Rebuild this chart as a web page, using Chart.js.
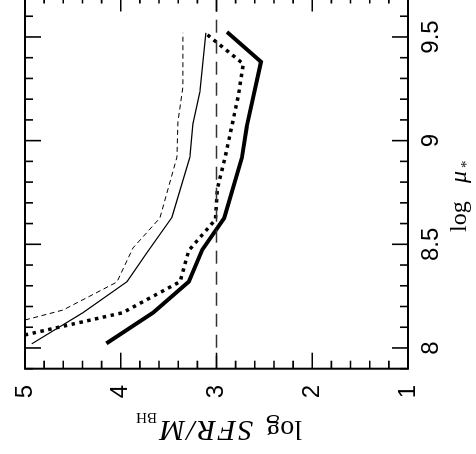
<!DOCTYPE html>
<html><head><meta charset="utf-8">
<style>
html,body{margin:0;padding:0;background:#fff;}
#wrap{position:relative;width:476px;height:454px;overflow:hidden;background:#fff;}
#c{position:absolute;left:0;top:0;transform-origin:0 0;transform:translate(0px,460px) rotate(-90deg);}
</style>
<script src="https://cdn.jsdelivr.net/npm/chart.js@4.4.0/dist/chart.umd.min.js"></script>
</head><body>
<div id="wrap"><canvas id="c" width="470" height="476"></canvas></div>
<script>
// ---- data (log mu_* on x, log SFR/M_BH on y, in the un-rotated frame) ----
const muTicks  = [8, 8.5, 9, 9.5];
const sfrTicks = [1, 2, 3, 4, 5];
const muRange  = [7.9, 9.7];
const sfrRange = [1, 5];
const refLevel = 3;

const muThickSolid  = [8.022, 8.171, 8.320, 8.473, 8.626, 8.917, 9.066, 9.380, 9.524];
const sfrThickSolid = [4.15, 3.66, 3.29, 3.15, 2.92, 2.735, 2.685, 2.535, 2.89];

const muThickDot  = [8.02, 8.17, 8.32, 8.47, 8.62, 8.77, 8.92, 9.07, 9.22, 9.37, 9.52];
const sfrThickDot = [5.41, 3.98, 3.38, 3.29, 3.01, 2.99, 2.91, 2.84, 2.77, 2.72, 3.12];

const muThinSolid  = [8.02, 8.17, 8.32, 8.46, 8.63, 8.92, 9.08, 9.235, 9.52];
const sfrThinSolid = [4.93, 4.395, 3.935, 3.727, 3.466, 3.278, 3.246, 3.173, 3.111];

const muThinDash  = [8.135, 8.183, 8.318, 8.482, 8.627, 8.921, 9.09, 9.259, 9.52];
const sfrThinDash = [5.0, 4.603, 4.04, 3.873, 3.591, 3.413, 3.403, 3.351, 3.351];

const muMinorStep = 0.1;
const sfrMinorStep = 0.2;

function pts(xs, ys){ return xs.map((v,i)=>({x:v, y:ys[i]})); }

const SANS = "'Liberation Sans', Arial, sans-serif";
const SERIF = "'Liberation Serif', 'Times New Roman', serif";

const frameTicks = {
  id: 'frameTicks',
  afterDraw(chart){
    const {ctx, chartArea:a, scales:{x, y}} = chart;
    ctx.save();
    ctx.strokeStyle = '#000';
    ctx.lineWidth = 1.6;
    ctx.beginPath();
    const n1 = Math.round((muRange[1]-muRange[0])/muMinorStep);
    for (let i=0;i<=n1;i++){
      const v = muRange[0] + i*muMinorStep;
      const major = muTicks.some(t=>Math.abs(t-v)<1e-6);
      const L = major ? 16 : 8;
      const p = x.getPixelForValue(v);
      ctx.moveTo(p, a.bottom); ctx.lineTo(p, a.bottom-L);
      ctx.moveTo(p, a.top);    ctx.lineTo(p, a.top+L);
    }
    const n2 = Math.round((sfrRange[1]-sfrRange[0])/sfrMinorStep);
    for (let i=0;i<=n2;i++){
      const v = sfrRange[0] + i*sfrMinorStep;
      const major = sfrTicks.some(t=>Math.abs(t-v)<1e-6);
      const L = major ? 16 : 8;
      const p = y.getPixelForValue(v);
      ctx.moveTo(a.left, p);  ctx.lineTo(a.left+L, p);
      ctx.moveTo(a.right, p); ctx.lineTo(a.right-L, p);
    }
    ctx.stroke();
    ctx.lineWidth = 2;
    ctx.strokeRect(a.left, a.top, a.right-a.left, a.bottom-a.top);

    // y title (log SFR/M_BH)
    const cy = (a.top + a.bottom)/2;
    ctx.fillStyle = '#000';
    ctx.textAlign = 'left';
    ctx.textBaseline = 'alphabetic';
    ctx.save();
    ctx.translate(39, cy + 85.5);
    ctx.rotate(-Math.PI/2);
    ctx.font = "28px " + SERIF;
    ctx.fillText('log', 0, 0);
    ctx.font = "italic 30px " + SERIF;
    ctx.letterSpacing = '2px';
    ctx.fillText('SFR/M', 49, 0);
    ctx.letterSpacing = '0px';
    ctx.font = "15px " + SERIF;
    ctx.fillText('BH', 145, 8);
    ctx.restore();

    // x title (log mu_*)
    ctx.font = "24px " + SERIF;
    ctx.fillText('log', 228, 466);
    ctx.font = "italic 24px " + SERIF;
    ctx.fillText('\u03BC', 277, 466);
    ctx.font = "15px " + SERIF;
    ctx.fillText('*', 292, 471);
    ctx.restore();
  }
};

const line = (data, w, dash) => ({
  data, borderColor:'#000', borderWidth:w, borderDash:dash, pointRadius:0,
  tension:0, fill:false, clip:0, borderCapStyle:'butt', borderJoinStyle:'miter'
});

new Chart(document.getElementById('c'), {
  type: 'line',
  data: { datasets: [
    Object.assign(line(pts(muRange, [refLevel, refLevel]), 1.5, [13, 8]), {borderColor:'#333'}),
    line(pts(muThinDash, sfrThinDash), 1, [5, 3.5]),
    line(pts(muThinSolid, sfrThinSolid), 1.2, []),
    line(pts(muThickDot, sfrThickDot), 3.5, [3.5, 4.5]),
    line(pts(muThickSolid, sfrThickSolid), 4, [])
  ]},
  options: {
    responsive: false, animation: false, devicePixelRatio: 1,
    events: [],
    layout: { padding: { left: 0, right: 5.5, top: 25, bottom: 0 } },
    plugins: { legend: {display:false}, tooltip: {enabled:false} },
    scales: {
      x: {
        type: 'linear', min: muRange[0], max: muRange[1],
        grid: { display:false, drawTicks:false, tickLength:0 },
        border: { display:false },
        ticks: { font:{family:SANS, size:24}, color:'#000', padding:8.5, maxRotation:0, minRotation:0,
                 callback: v => String(v) },
        afterBuildTicks: s => { s.ticks = muTicks.map(v=>({value:v})); },
        afterFit: s => { s.height = 68; s.paddingLeft = 0; s.paddingRight = 0; s.paddingTop = 0; s.paddingBottom = 0; }
      },
      y: {
        type: 'linear', min: sfrRange[0], max: sfrRange[1],
        grid: { display:false, drawTicks:false, tickLength:0 },
        border: { display:false },
        ticks: { font:{family:SANS, size:24}, color:'#000', padding:16.3,
                 callback: v => String(v) },
        afterBuildTicks: s => { s.ticks = sfrTicks.map(v=>({value:v})); },
        afterFit: s => { s.width = 91.3; s.paddingLeft = 0; s.paddingRight = 0; s.paddingTop = 0; s.paddingBottom = 0; }
      }
    }
  },
  plugins: [frameTicks]
});
</script>
</body></html>
